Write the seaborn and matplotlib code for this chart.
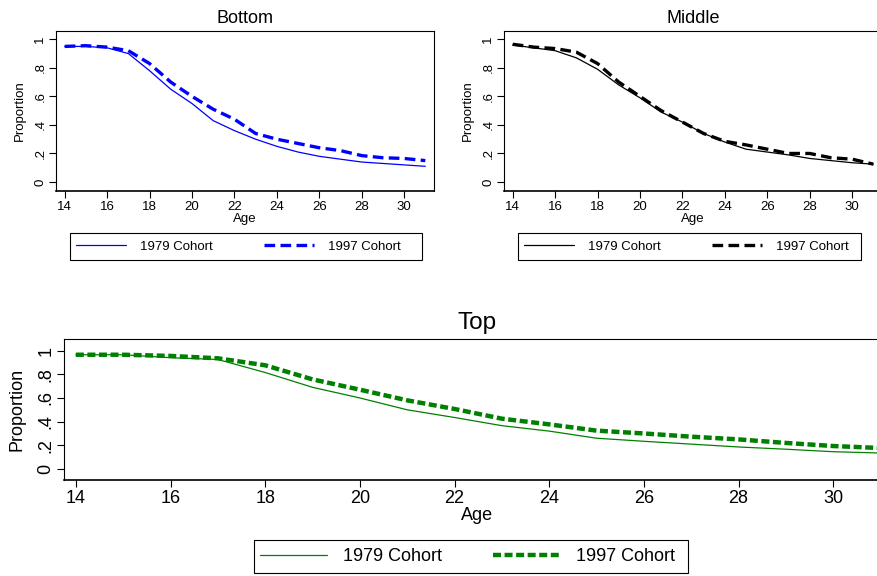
import numpy as np
import pandas as pd
import matplotlib
matplotlib.use("Agg")
import matplotlib.pyplot as plt
from matplotlib.patches import Rectangle
import seaborn as sns

# ages shared by every panel
ages = list(range(14, 32))

# Bottom group
bottom_1979 = [0.95, 0.95, 0.94, 0.90, 0.78, 0.65, 0.55, 0.43, 0.36, 0.30,
               0.25, 0.21, 0.18, 0.16, 0.14, 0.13, 0.12, 0.11]
bottom_1997 = [0.95, 0.955, 0.945, 0.92, 0.83, 0.70, 0.60, 0.51, 0.44, 0.34,
               0.30, 0.27, 0.24, 0.22, 0.185, 0.17, 0.165, 0.15]

# Middle group
middle_1979 = [0.96, 0.94, 0.92, 0.87, 0.79, 0.68, 0.59, 0.49, 0.42, 0.34,
               0.28, 0.23, 0.21, 0.19, 0.165, 0.15, 0.135, 0.125]
middle_1997 = [0.965, 0.945, 0.935, 0.91, 0.83, 0.70, 0.60, 0.50, 0.42, 0.34,
               0.285, 0.26, 0.23, 0.20, 0.20, 0.17, 0.16, 0.125]

# Top group
top_1979 = [0.965, 0.965, 0.94, 0.925, 0.815, 0.69, 0.60, 0.50, 0.435, 0.366,
            0.32, 0.26, 0.234, 0.21, 0.186, 0.167, 0.146, 0.135]
top_1997 = [0.965, 0.965, 0.955, 0.935, 0.876, 0.757, 0.67, 0.58, 0.507, 0.425,
            0.377, 0.324, 0.30, 0.273, 0.25, 0.22, 0.194, 0.177]

yticks = [0, 0.2, 0.4, 0.6, 0.8, 1]
ytick_labels = ["0", ".2", ".4", ".6", ".8", "1"]
xticks = list(range(14, 32, 2))

sns.set_style("white")
plt.rcParams["font.family"] = ["Liberation Sans", "DejaVu Sans"]
plt.rcParams["text.color"] = "black"
plt.rcParams["axes.labelcolor"] = "black"

W, H = 878, 576
fig = plt.figure(figsize=(W / 100, H / 100), dpi=100)


def px_axes(left, top, width, height):
    return fig.add_axes([left / W, (H - top - height) / H, width / W, height / H])


def draw_panel(ax, title, s79, s97, color, xlim, ylim, fs_title, fs_tick, fs_lab,
               lw_dash, dashes, legend_box, handle_x, ylabpad, tpad, hlen, htp, csp):
    df = pd.DataFrame({"Age": ages + ages,
                       "Proportion": s79 + s97,
                       "Cohort": ["1979 Cohort"] * len(ages) + ["1997 Cohort"] * len(ages)})
    sns.lineplot(data=df[df.Cohort == "1979 Cohort"], x="Age", y="Proportion",
                 color=color, lw=0.9, ax=ax, label="1979 Cohort")
    sns.lineplot(data=df[df.Cohort == "1997 Cohort"], x="Age", y="Proportion",
                 color=color, lw=lw_dash, ax=ax, label="1997 Cohort",
                 linestyle=(0, dashes))
    ax.set_xlim(*xlim)
    ax.set_ylim(*ylim)
    ax.set_xticks(xticks)
    ax.set_yticks(yticks)
    ax.set_yticklabels(ytick_labels, rotation=90, va="center")
    ax.tick_params(axis="both", direction="out", length=5, width=0.8,
                   labelsize=fs_tick, colors="black", pad=2,
                   bottom=True, left=True)
    for s in ax.spines.values():
        s.set_color("black")
        s.set_linewidth(0.8)
    ax.spines["bottom"].set_linewidth(1.2)
    ax.set_title(title, fontsize=fs_title, pad=tpad, color="black")
    ax.set_xlabel("Age", fontsize=fs_lab, labelpad=0)
    ax.set_ylabel("Proportion", fontsize=fs_lab, labelpad=ylabpad)

    # legend frame drawn as its own box, entries placed inside it
    l, t, w, h = legend_box
    fig.patches.append(Rectangle((l / W, (H - t - h) / H), w / W, h / H,
                                 transform=fig.transFigure, fill=False,
                                 edgecolor="black", linewidth=0.8))
    ax.legend(loc="center left", ncol=2,
              bbox_to_anchor=(handle_x / W, (H - t - h / 2) / H),
              bbox_transform=fig.transFigure, fontsize=fs_lab,
              frameon=False, borderpad=0, borderaxespad=0,
              handlelength=hlen, handletextpad=htp, columnspacing=csp)


ax1 = px_axes(56, 31, 378, 160)
draw_panel(ax1, "Bottom", bottom_1979, bottom_1997, "#0000ff",
           (13.59, 31.41), (-0.063, 1.058), 13, 9.5, 9.5, 2.4, (3.2, 1.6),
           (70, 233, 352, 27), 76, 6, 6, 3.8, 1.05, 3.85)

ax2 = px_axes(504, 31, 378, 160)
draw_panel(ax2, "Middle", middle_1979, middle_1997, "black",
           (13.59, 31.41), (-0.063, 1.058), 13, 9.5, 9.5, 2.4, (3.2, 1.6),
           (518, 233, 343, 27), 524, 6, 6, 3.8, 1.05, 3.85)

ax3 = px_axes(64, 339, 826, 141)
draw_panel(ax3, "Top", top_1979, top_1997, "#008000",
           (13.75, 31.2), (-0.093, 1.098), 17.5, 13, 13, 3.2, (1.8, 0.8),
           (254, 540, 434, 33), 260, 8.5, 7, 3.7, 0.9, 2.8)

fig.savefig("out.png", dpi=100)
